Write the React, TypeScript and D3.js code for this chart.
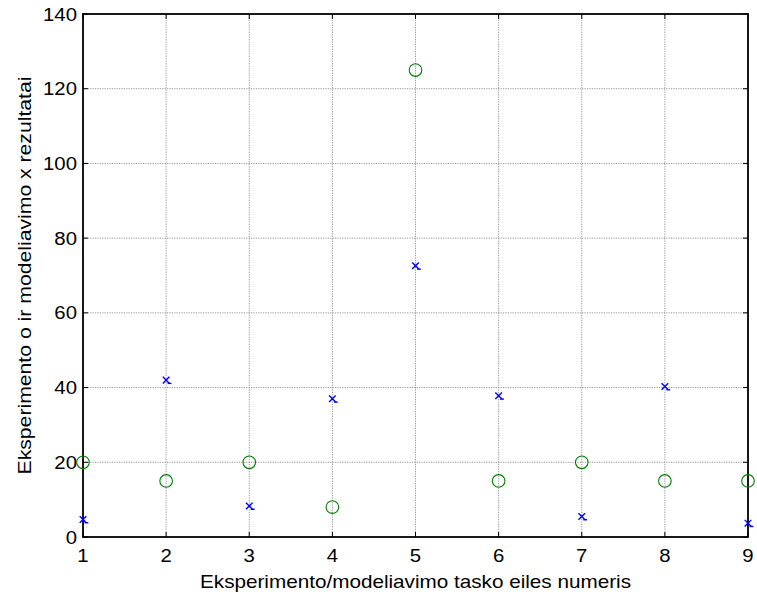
import React from "react";
import * as d3 from "d3";

// Experiment / model point index
const pointIndex = [1, 2, 3, 4, 5, 6, 7, 8, 9];
// "o" results
const oResults = [20, 15, 20, 8, 125, 15, 20, 15, 15];
// "x" modelling results
const xResults = [4.7, 42, 8.3, 37, 72.6, 37.8, 5.5, 40.3, 3.7];

const xTicks = [1, 2, 3, 4, 5, 6, 7, 8, 9];
const yTicks = [0, 20, 40, 60, 80, 100, 120, 140];

const W = 757;
const H = 597;
const margin = { left: 83, right: 9, top: 14, bottom: 60 };

export default function App() {
  const x = d3
    .scaleLinear()
    .domain([1, 9])
    .range([margin.left, W - margin.right]);
  const y = d3
    .scaleLinear()
    .domain([0, 140])
    .range([H - margin.bottom, margin.top]);

  const [x0, x1] = x.range();
  const [yb, yt] = y.range();
  const font = "Liberation Sans, Arial, sans-serif";
  const fs = 18.5;
  const stretch = 1.1;
  const tick = 5;
  const cs = 3.3;

  return (
    <svg
      width={W}
      height={H}
      style={{ position: "absolute", left: 0, top: 0, background: "#fff" }}
      fontFamily={font}
    >
      <rect x={0} y={0} width={W} height={H} fill="#fff" />
      {/* grid */}
      <g stroke="#7a7a7a" strokeWidth={0.8} strokeDasharray="1.2,1.2">
        {xTicks.slice(1, -1).map((t) => (
          <line key={"gx" + t} x1={x(t)} x2={x(t)} y1={yb} y2={yt} />
        ))}
        {yTicks.slice(1, -1).map((t) => (
          <line key={"gy" + t} x1={x0} x2={x1} y1={y(t)} y2={y(t)} />
        ))}
      </g>
      {/* inward ticks */}
      <g stroke="#000" strokeWidth={1}>
        {xTicks.map((t) => (
          <g key={"tx" + t}>
            <line x1={x(t)} x2={x(t)} y1={yb} y2={yb - tick} />
            <line x1={x(t)} x2={x(t)} y1={yt} y2={yt + tick} />
          </g>
        ))}
        {yTicks.map((t) => (
          <g key={"ty" + t}>
            <line x1={x0} x2={x0 + tick} y1={y(t)} y2={y(t)} />
            <line x1={x1} x2={x1 - tick} y1={y(t)} y2={y(t)} />
          </g>
        ))}
      </g>
      {/* box */}
      <rect
        x={x0}
        y={yt}
        width={x1 - x0}
        height={yb - yt}
        fill="none"
        stroke="#000"
        strokeWidth={1.8}
      />
      {/* tick labels */}
      <g fontSize={fs} fill="#000">
        {xTicks.map((t) => (
          <text
            key={"lx" + t}
            transform={`translate(${x(t)},${yb + 25}) scale(${stretch},1)`}
            textAnchor="middle"
          >
            {t}
          </text>
        ))}
        {yTicks.map((t) => (
          <text
            key={"ly" + t}
            transform={`translate(${x0 - 6},${y(t) + 6.5}) scale(${stretch},1)`}
            textAnchor="end"
          >
            {t}
          </text>
        ))}
      </g>
      {/* o markers */}
      <g fill="none" stroke="#008000" strokeWidth={1.1}>
        {pointIndex.map((p, i) => (
          <circle key={"o" + p} cx={x(p)} cy={y(oResults[i])} r={6.3} />
        ))}
      </g>
      {/* x markers */}
      <g stroke="#0000ff" strokeWidth={1.4}>
        {pointIndex.map((p, i) => {
          const cx = x(p);
          const cy = y(xResults[i]);
          return (
            <g key={"x" + p}>
              <line x1={cx - cs} y1={cy - cs} x2={cx + cs} y2={cy + cs} />
              <line x1={cx - cs} y1={cy + cs} x2={cx + cs} y2={cy - cs} />
              <line x1={cx + 1.5} y1={cy + cs} x2={cx + cs + 2} y2={cy + cs} />
            </g>
          );
        })}
      </g>
      {/* axis titles */}
      <text
        x={(x0 + x1) / 2}
        y={588}
        textAnchor="middle"
        fontSize={fs}
        fill="#000"
        textLength={431}
        lengthAdjust="spacingAndGlyphs"
      >
        Eksperimento/modeliavimo tasko eiles numeris
      </text>
      <text
        transform={`translate(31,${(yb + yt) / 2}) rotate(-90)`}
        textAnchor="middle"
        fontSize={fs}
        fill="#000"
        textLength={398}
        lengthAdjust="spacingAndGlyphs"
      >
        Eksperimento o ir modeliavimo x rezultatai
      </text>
    </svg>
  );
}
